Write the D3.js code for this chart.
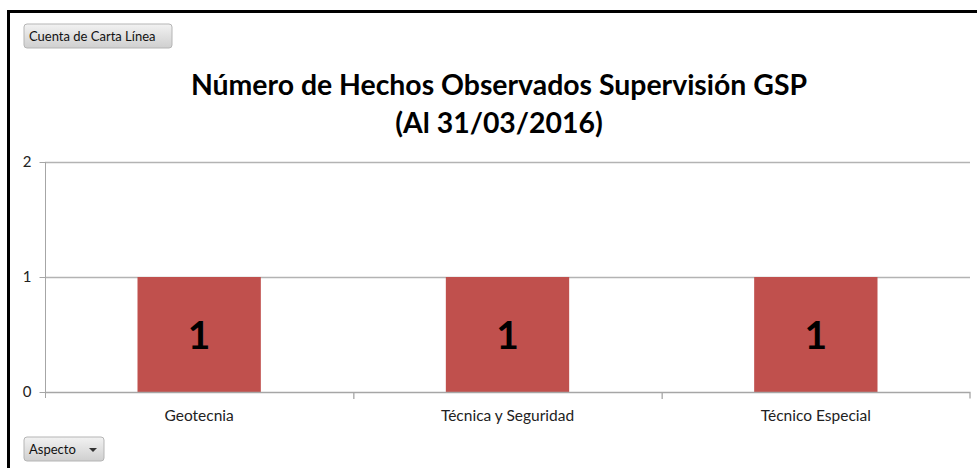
<!DOCTYPE html>
<html><head><meta charset="utf-8">
<script src="https://cdn.jsdelivr.net/npm/d3@7"></script>
<style>
html,body{margin:0;padding:0;background:#fff;}
svg{display:block;font-family:Lato,"Open Sans",sans-serif;}
</style></head>
<body>
<svg id="chart" width="977" height="468"></svg>
<script>
const categories = ["Geotecnia", "Técnica y Seguridad", "Técnico Especial"];
const values = [1, 1, 1];
const yTicks = [0, 1, 2];
const titleLines = ["Número de Hechos Observados Supervisión GSP", "(Al 31/03/2016)"];
const fieldButton = "Cuenta de Carta Línea";
const axisButton = "Aspecto";

const svg = d3.select("#chart");
const W = 977, H = 468;
const m = {left: 45, right: 7, top: 162, bottom: 76};

const defs = svg.append("defs");
const grad = defs.append("linearGradient").attr("id","btn").attr("x1",0).attr("y1",0).attr("x2",0).attr("y2",1);
grad.append("stop").attr("offset","0%").attr("stop-color","#f2f2f2");
grad.append("stop").attr("offset","100%").attr("stop-color","#cfcfcf");

// frame
svg.append("line").attr("x1",7).attr("x2",W).attr("y1",11.5).attr("y2",11.5).attr("stroke","#000").attr("stroke-width",3);
svg.append("line").attr("x1",8.5).attr("x2",8.5).attr("y1",10).attr("y2",H).attr("stroke","#000").attr("stroke-width",3);

const x = d3.scaleBand().domain(categories).range([m.left, W - m.right]).paddingInner(0.6).paddingOuter(0.3);
const xb = d3.scaleBand().domain(categories).range([m.left, W - m.right]);
const y = d3.scaleLinear().domain([0, 2]).range([H - m.bottom, m.top]);

// gridlines
svg.append("g").selectAll("line").data(yTicks.filter(d=>d>0)).join("line")
  .attr("x1", m.left).attr("x2", W - m.right)
  .attr("y1", d=>y(d)+0.5).attr("y2", d=>y(d)+0.5)
  .attr("stroke","#b3b3b3").attr("stroke-width",1.3);

// y axis
const yAxis = svg.append("g").attr("transform",`translate(${m.left+0.5},0)`)
  .call(d3.axisLeft(y).tickValues(yTicks).tickFormat(d3.format("d")).tickSize(6).tickPadding(8));
yAxis.select(".domain").attr("stroke","#a6a6a6").attr("d", `M0,${y(0)+6}V${y(2)}`);
yAxis.selectAll(".tick line").attr("stroke","#a6a6a6");
yAxis.selectAll(".tick text").attr("font-size",15).attr("fill","#222").attr("font-family","Lato,sans-serif");

// bars
svg.append("g").selectAll("rect").data(values).join("rect")
  .attr("x", (d,i)=>x(categories[i])).attr("width", x.bandwidth())
  .attr("y", d=>y(d)).attr("height", d=>y(0)-y(d))
  .attr("fill","#C0504D");

// x axis
const xAxis = svg.append("g").attr("transform",`translate(0,${y(0)+0.5})`)
  .call(d3.axisBottom(xb).tickSize(0).tickPadding(17));
xAxis.select(".domain").attr("stroke","#a6a6a6").attr("stroke-width",1.3)
  .attr("d", `M${m.left},0H${W-m.right}v6`);
xAxis.selectAll(".tick text").attr("font-size",15.5).attr("fill","#222").attr("font-family","Lato,sans-serif");
// category separators
svg.append("g").selectAll("line").data(categories.slice(1)).join("line")
  .attr("x1", d=>xb(d)+0.5).attr("x2", d=>xb(d)+0.5)
  .attr("y1", y(0)).attr("y2", y(0)+7).attr("stroke","#a6a6a6").attr("stroke-width",1.3);

// data labels
svg.append("g").selectAll("text").data(values).join("text")
  .attr("x", (d,i)=>x(categories[i]) + x.bandwidth()/2)
  .attr("y", d=> (y(d)+y(0))/2 + 14)
  .attr("text-anchor","middle").attr("font-weight","bold").attr("font-size",39)
  .attr("fill","#000").text(d=>d);

// title
svg.append("g").selectAll("text").data(titleLines).join("text")
  .attr("x", 499).attr("y",(d,i)=>95 + i*38)
  .attr("text-anchor","middle").attr("font-weight","bold").attr("font-size",28.4)
  .attr("fill","#000").text(d=>d);

// field button
const b1 = svg.append("g").attr("transform","translate(24,24)");
b1.append("rect").attr("width",148).attr("height",24).attr("rx",3).attr("fill","url(#btn)").attr("stroke","#b5b5b5");
b1.append("text").attr("x",5).attr("y",17).attr("font-size",13).attr("font-family","Lato,sans-serif").attr("fill","#111").text(fieldButton);

const b2 = svg.append("g").attr("transform","translate(24,437)");
b2.append("rect").attr("width",80).attr("height",24).attr("rx",3).attr("fill","url(#btn)").attr("stroke","#b5b5b5");
b2.append("text").attr("x",5).attr("y",17).attr("font-size",13).attr("font-family","Lato,sans-serif").attr("fill","#111").text(axisButton);
b2.append("path").attr("d","M65,11h8l-4,4z").attr("fill","#333");
</script>
</body></html>
